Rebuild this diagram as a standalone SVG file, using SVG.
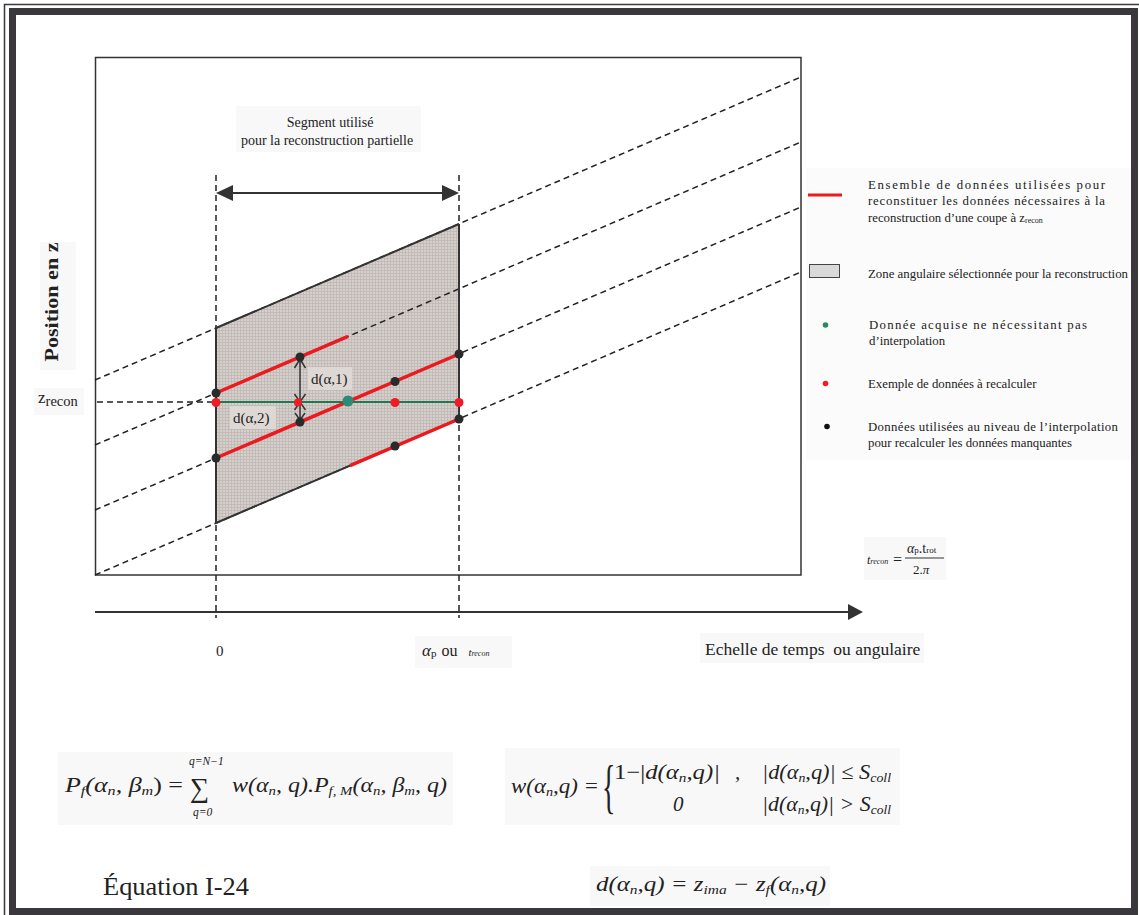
<svg xmlns="http://www.w3.org/2000/svg" width="1139" height="915" viewBox="0 0 1139 915">
<style>
text{font-family:"Liberation Serif","Times New Roman",serif;fill:#222}
.lg{font-size:12.8px}
.eq{font-size:21px;font-style:italic}
.dash{stroke:#222;stroke-width:1.5;stroke-dasharray:6,4;fill:none}
.red{stroke:#ea1a1f;stroke-width:3.5;fill:none}
.bd{fill:#2a2a2a}
.rd{fill:#ee1c24}
.bg{fill:#f8f8f8}
.sub{font-size:13px}
</style>
<defs>
<pattern id="grid" width="3" height="3" patternUnits="userSpaceOnUse">
<rect width="3" height="3" fill="#d6d0cc"/>
<path d="M0,0.5H3M0.5,0V3" stroke="#bfb8b4" stroke-width="0.8"/>
</pattern>
</defs>
<rect width="1139" height="915" fill="#ffffff"/>
<g id="frame">
<rect x="4.5" y="4.5" width="1140" height="920" fill="none" stroke="#3a383d" stroke-width="1.5"/>
<rect x="12.5" y="11.5" width="1122" height="900" fill="none" stroke="#3a383d" stroke-width="7"/>
</g>
<g id="plot-box">
<rect x="95.5" y="57.5" width="705.5" height="517.5" fill="none" stroke="#333" stroke-width="1.5"/>
</g>
<g id="zone">
<path d="M216,328 L459,224 L459,419 L216,523 Z" fill="url(#grid)"/>
</g>
<g id="connectors">
<path class="dash" d="M95,380 L801,77"/>
<path class="dash" d="M95,445 L801,142"/>
<path class="dash" d="M95,510 L801,207"/>
<path class="dash" d="M95,575 L801,272"/>
<path class="dash" d="M216,175 V618"/>
<path class="dash" d="M459,175 V618"/>
<path class="dash" d="M97,402 H216"/>
<path d="M216,328 L459,224 M459,224 V419 M216,523 L459,419 M216,328 V523" fill="none" stroke="#333" stroke-width="2"/>
<line x1="95" y1="612" x2="850" y2="612" stroke="#333" stroke-width="2"/>
<polygon points="848,604 863,612 848,620" fill="#333"/>
<line x1="230" y1="193" x2="445" y2="193" stroke="#333" stroke-width="2"/>
<polygon points="216,193 233,185 233,201" fill="#333"/>
<polygon points="459,193 442,185 442,201" fill="#333"/>
<path class="red" d="M216,393 L348,336.3"/>
<path class="red" d="M216,458 L459,354"/>
<path class="red" d="M350,465.6 L459,419"/>
<line x1="216" y1="402" x2="459" y2="402" stroke="#1e7a50" stroke-width="2"/>
<g stroke="#333" stroke-width="1.5" fill="none">
<line x1="300" y1="358" x2="300" y2="421"/>
<polyline points="294.5,368 300,359 305.5,368"/>
<polyline points="294.5,394 300,402 305.5,394"/>
<polyline points="294.5,410 300,402 305.5,410"/>
<polyline points="295,413 300,420 305,413"/>
</g>
</g>
<g id="points">
<circle class="bd" cx="216" cy="393" r="4.5"/>
<circle class="bd" cx="216" cy="458" r="4.5"/>
<circle class="bd" cx="300" cy="357" r="4.5"/>
<circle class="bd" cx="300" cy="422" r="4.5"/>
<circle class="bd" cx="395" cy="381.5" r="4.5"/>
<circle class="bd" cx="395" cy="446" r="4.5"/>
<circle class="bd" cx="459" cy="354" r="4.5"/>
<circle class="bd" cx="459" cy="419" r="4.5"/>
<circle class="rd" cx="216" cy="402.5" r="4.5"/>
<circle class="rd" cx="298" cy="402.5" r="4"/>
<circle class="rd" cx="395" cy="402.5" r="4.5"/>
<circle class="rd" cx="459" cy="402.5" r="4.5"/>
<circle cx="348" cy="401" r="5.5" fill="#2b8a78"/>
</g>
<g id="d-labels">
<rect x="308" y="367" width="44" height="23" fill="#ddd8d4"/>
<text x="311" y="384" font-size="15">d(α,1)</text>
<rect x="230" y="406" width="46" height="23" fill="#ddd8d4"/>
<text x="233" y="423" font-size="15">d(α,2)</text>
</g>
<g id="segment-label">
<rect class="bg" x="236" y="106" width="185" height="46"/>
<text x="330" y="127" font-size="14" text-anchor="middle">Segment utilisé</text>
<text x="327" y="145" font-size="14" text-anchor="middle">pour la reconstruction partielle</text>
</g>
<g id="y-label">
<rect class="bg" x="40" y="242" width="36" height="128"/>
<text transform="translate(58,302) rotate(-90)" font-size="19.5" font-weight="bold" text-anchor="middle" textLength="119" lengthAdjust="spacingAndGlyphs">Position en z</text>
</g>
<g id="zrecon-label">
<rect class="bg" x="34" y="388" width="50" height="27"/>
<text x="38" y="403" font-size="17">z<tspan font-size="14.5" dy="3">recon</tspan></text>
</g>
<g id="axis-labels">
<text x="216" y="656" font-size="15">0</text>
<rect class="bg" x="415" y="636" width="97" height="32"/>
<text x="422" y="656" font-size="16"><tspan font-style="italic" font-size="17">α</tspan><tspan font-size="11" dy="1">p</tspan><tspan dy="-1" dx="5">ou</tspan><tspan font-style="italic" font-size="11" dx="11">t</tspan><tspan font-style="italic" font-size="8">recon</tspan></text>
<rect class="bg" x="700" y="633" width="224" height="30"/>
<text x="705" y="655" font-size="17.5">Echelle de temps &#160;ou angulaire</text>
</g>
<g id="legend">
<rect x="806" y="168" width="325" height="292" fill="#fbfbfb"/>
<line x1="808" y1="195" x2="842" y2="195" stroke="#ea1a1f" stroke-width="3"/>
<text class="lg" x="868" y="189" textLength="237" lengthAdjust="spacing">Ensemble de données utilisées pour</text>
<text class="lg" x="868" y="205" textLength="237" lengthAdjust="spacing">reconstituer les données nécessaires à la</text>
<text class="lg" x="868" y="222">reconstruction d’une coupe à z<tspan font-size="8" dy="1">recon</tspan></text>
<rect x="809.5" y="264.5" width="30" height="13" fill="#d9d9d9" stroke="#444" stroke-width="1"/>
<text class="lg" x="868" y="278" textLength="260" lengthAdjust="spacingAndGlyphs">Zone angulaire sélectionnée pour la reconstruction</text>
<circle cx="825.5" cy="325" r="2.8" fill="#2b8a60"/>
<text class="lg" x="869" y="329" textLength="218" lengthAdjust="spacing">Donnée acquise ne nécessitant pas</text>
<text class="lg" x="869" y="345">d’interpolation</text>
<circle cx="825.5" cy="383.5" r="2.8" fill="#ee1c24"/>
<text class="lg" x="868" y="388">Exemple de données à recalculer</text>
<circle cx="827" cy="426.5" r="2.8" fill="#111"/>
<text class="lg" x="868" y="431" textLength="250" lengthAdjust="spacing">Données utilisées au niveau de l’interpolation</text>
<text class="lg" x="868" y="447">pour recalculer les données manquantes</text>
</g>
<g id="trecon-formula">
<rect class="bg" x="864" y="537" width="82" height="43"/>
<text x="867" y="564" font-size="12" font-style="italic">t<tspan font-size="8">recon</tspan></text>
<text x="893" y="565" font-size="16">=</text>
<text x="907" y="553" font-size="14"><tspan font-style="italic">α</tspan><tspan font-size="9">p</tspan>.t<tspan font-size="9">rot</tspan></text>
<line x1="905" y1="558" x2="944" y2="558" stroke="#333" stroke-width="1"/>
<text x="913" y="574" font-size="13">2.<tspan font-style="italic">π</tspan></text>
</g>
<g id="equation-pf">
<rect class="bg" x="58" y="752" width="395" height="73"/>
<text class="eq" x="65" y="792" textLength="118" lengthAdjust="spacingAndGlyphs">P<tspan class="sub" dy="3">f</tspan><tspan dy="-3">(α</tspan><tspan class="sub" dy="3">n</tspan><tspan dy="-3">, β</tspan><tspan class="sub" dy="3">m</tspan><tspan dy="-3" font-style="normal">) =</tspan></text>
<text x="190" y="797" font-size="27">∑</text>
<text x="189" y="765" font-size="11.5" font-style="italic">q=N−1</text>
<text x="193" y="816" font-size="11.5" font-style="italic">q=0</text>
<text class="eq" x="232" y="792" textLength="215" lengthAdjust="spacingAndGlyphs">w(α<tspan class="sub" dy="3">n</tspan><tspan dy="-3">, q).P</tspan><tspan class="sub" dy="3">f, M</tspan><tspan dy="-3">(α</tspan><tspan class="sub" dy="3">n</tspan><tspan dy="-3">, β</tspan><tspan class="sub" dy="3">m</tspan><tspan dy="-3">, q)</tspan></text>
</g>
<g id="equation-w">
<rect class="bg" x="505" y="748" width="395" height="77"/>
<text class="eq" x="511" y="793" textLength="88" lengthAdjust="spacingAndGlyphs">w(α<tspan class="sub" dy="3">n</tspan><tspan dy="-3">,q) =</tspan></text>
<text transform="translate(602,806) scale(1,2.1)" font-size="28">{</text>
<text class="eq" x="614" y="779" textLength="106" lengthAdjust="spacingAndGlyphs"><tspan font-style="normal">1−|</tspan>d(α<tspan class="sub" dy="3">n</tspan><tspan dy="-3">,q)|</tspan></text>
<text class="eq" x="735" y="779" font-style="normal">,</text>
<text class="eq" x="762" y="779" textLength="129" lengthAdjust="spacingAndGlyphs">|d(α<tspan class="sub" dy="3">n</tspan><tspan dy="-3">,q)| ≤ S</tspan><tspan class="sub" dy="3">coll</tspan></text>
<text class="eq" x="673" y="811" font-style="normal">0</text>
<text class="eq" x="762" y="811" textLength="129" lengthAdjust="spacingAndGlyphs">|d(α<tspan class="sub" dy="3">n</tspan><tspan dy="-3">,q)| &gt; S</tspan><tspan class="sub" dy="3">coll</tspan></text>
</g>
<g id="equation-label">
<text x="103" y="895" font-size="25" textLength="146" lengthAdjust="spacingAndGlyphs">Équation I-24</text>
</g>
<g id="equation-d">
<rect class="bg" x="590" y="866" width="240" height="40"/>
<text class="eq" x="596" y="891" textLength="230" lengthAdjust="spacingAndGlyphs">d(α<tspan class="sub" dy="3">n</tspan><tspan dy="-3">,q) = z</tspan><tspan class="sub" dy="3">ima</tspan><tspan dy="-3"> − z</tspan><tspan class="sub" dy="3">f</tspan><tspan dy="-3">(α</tspan><tspan class="sub" dy="3">n</tspan><tspan dy="-3">,q)</tspan></text>
</g>
</svg>
